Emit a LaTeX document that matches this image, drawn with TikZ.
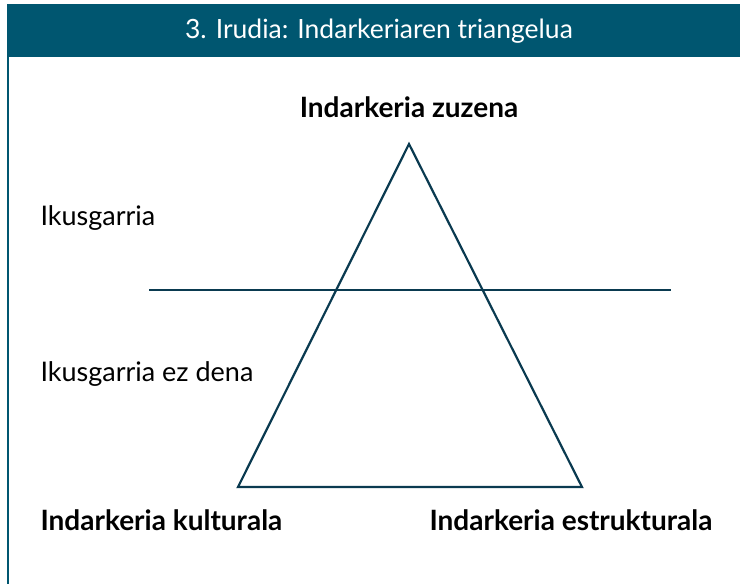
\documentclass[tikz,border=0pt]{standalone}
\usepackage{fontspec}
\setmainfont{Lato}
\usepackage{tikz}
\usetikzlibrary{positioning}
\definecolor{header}{RGB}{0,86,112}
\definecolor{darkline}{RGB}{10,58,80}
\tikzset{%
  title/.style={font=\fontsize{26.5}{30}\selectfont, text=white},% header text
  level/.style={anchor=west, font=\fontsize{27}{31}\selectfont},% visible / invisible
  corner/.style={font=\bfseries\fontsize{28}{32}\selectfont},% violence types
  edge/.style={draw=darkline, line width=2.2pt, line join=miter}% triangle
}
\begin{document}
\begin{tikzpicture}[x=1pt, y=-1pt]
\useasboundingbox (0,0) rectangle (740,584);
\fill[header] (7,4) rectangle (740,57);
\draw[header, line width=2pt] (8,57) -- (8,584);
\node[title] (t) at (379,31) {3. Irudia: Indarkeriaren triangelua};

\coordinate (a) at (409,144);
\coordinate (b) at (238,487);
\coordinate (c) at (582,487);
\draw[edge] (a) -- (b) -- (c) -- cycle;

\coordinate (l) at (149,290);
\coordinate (r) at (671,290);
\draw[darkline, line width=1.4pt] (l) -- (r);

\node[corner] (zuzena) at (409,107) {Indarkeria zuzena};
\node[corner, anchor=west] (kult) at (37,520) {Indarkeria kulturala};
\node[corner, anchor=east] (estr) at (716,520) {Indarkeria estrukturala};

\node[level] (ikus) at (37,218) {Ikusgarria};
\node[level] (ezdena) at (37,374) {Ikusgarria ez dena};
\end{tikzpicture}
\end{document}
